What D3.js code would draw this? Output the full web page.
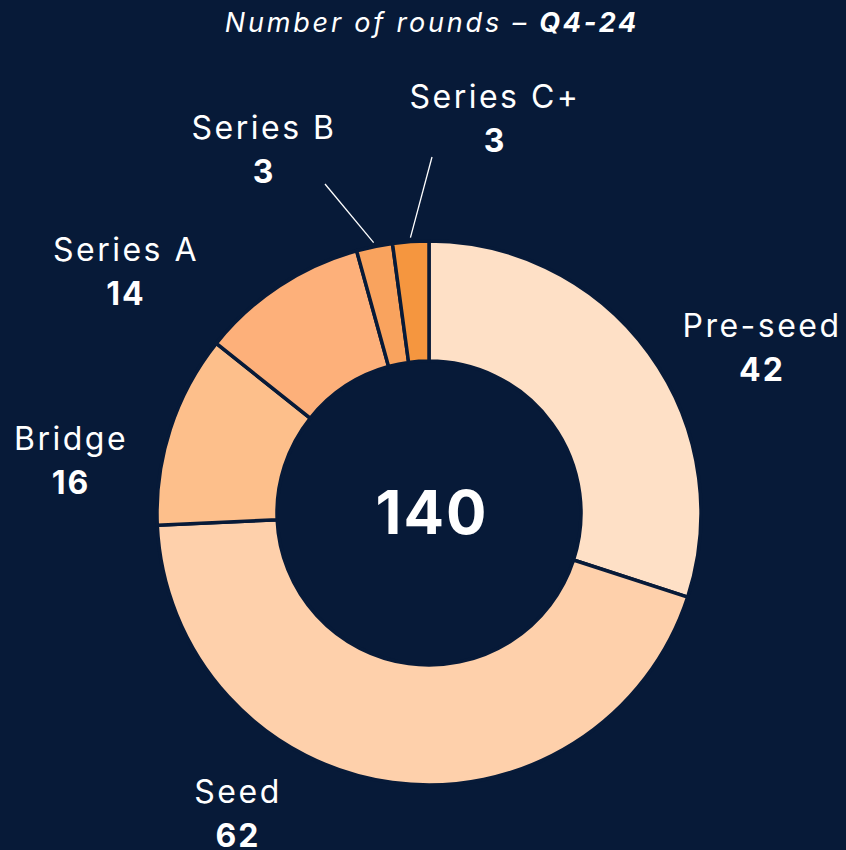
<!DOCTYPE html>
<html>
<head>
<meta charset="utf-8">
<script src="https://cdn.jsdelivr.net/npm/d3@7"></script>
<style>
  html, body { margin: 0; padding: 0; background: #071a38; }
  svg { display: block; }
  text { font-family: Inter, "Noto Sans", sans-serif; fill: #ffffff; }
</style>
</head>
<body>
<svg id="chart" width="846" height="850"></svg>
<script>
// ---- data ----
const categories = ["Pre-seed", "Seed", "Bridge", "Series A", "Series B", "Series C+"];
const values = [42, 62, 16, 14, 3, 3];
const colors = ["#fee0c6", "#fed0ab", "#fdbf8b", "#fdb07a", "#f9a35e", "#f5963f"];
const titleText = "Number of rounds – ";
const titleBold = "Q4-24";

// ---- layout ----
const W = 846, H = 850;
const cx = 429, cy = 513;
const outerR = 272, innerR = 152;
// label anchor (name baseline) positions, and whether a leader line is drawn
const labelPos = [
  { x: 761, y: 337, leader: false },
  { x: 237, y: 803, leader: false },
  { x: 70,  y: 450, leader: false },
  { x: 125, y: 261, leader: false },
  { x: 263, y: 139, leader: true, lx: 325, ly: 184 },
  { x: 494, y: 108, leader: true, lx: 432, ly: 157 }
];

const svg = d3.select("#chart");
svg.append("rect").attr("width", W).attr("height", H).attr("fill", "#071a38");

// title
const title = svg.append("text")
  .attr("x", 432).attr("y", 32)
  .attr("text-anchor", "middle")
  .style("font-size", "27px")
  .style("letter-spacing", "2.8px")
  .style("font-style", "italic");
title.append("tspan").text(titleText).style("font-weight", 400);
title.append("tspan").text(titleBold).style("font-weight", 700);

const data = categories.map((c, i) => ({ name: c, value: values[i], color: colors[i], lab: labelPos[i] }));

const pie = d3.pie().value(d => d.value).sort(null);
const arc = d3.arc().innerRadius(innerR).outerRadius(outerR);
const arcs = pie(data);

const g = svg.append("g").attr("transform", `translate(${cx},${cy})`);
g.selectAll("path.slice")
  .data(arcs)
  .join("path")
  .attr("class", "slice")
  .attr("d", arc)
  .attr("fill", d => d.data.color)
  .attr("stroke", "#071a38")
  .attr("stroke-width", 3.5)
  .attr("stroke-linejoin", "miter");

// leader lines
arcs.filter(d => d.data.lab.leader).forEach(d => {
  const mid = (d.startAngle + d.endAngle) / 2;
  const r = outerR + 4;
  const x1 = cx + r * Math.sin(mid), y1 = cy - r * Math.cos(mid);
  svg.append("line")
    .attr("x1", x1).attr("y1", y1)
    .attr("x2", d.data.lab.lx).attr("y2", d.data.lab.ly)
    .attr("stroke", "#ffffff").attr("stroke-width", 1.3);
});

// labels
arcs.forEach(d => {
  const L = d.data.lab;
  svg.append("text")
    .attr("x", L.x + 1).attr("y", L.y)
    .attr("text-anchor", "middle")
    .style("font-size", "32px").style("font-weight", 400)
    .style("letter-spacing", "2.5px")
    .text(d.data.name);
  svg.append("text")
    .attr("x", L.x + 1).attr("y", L.y + 44)
    .attr("text-anchor", "middle")
    .style("font-size", "32px").style("font-weight", 700)
    .style("letter-spacing", "2px")
    .text(d.data.value);
});

// centre total
svg.append("text")
  .attr("x", cx + 3).attr("y", cy + 21)
  .attr("text-anchor", "middle")
  .style("font-size", "60px").style("font-weight", 700)
  .style("letter-spacing", "2px")
  .text(d3.sum(values));
</script>
</body>
</html>
